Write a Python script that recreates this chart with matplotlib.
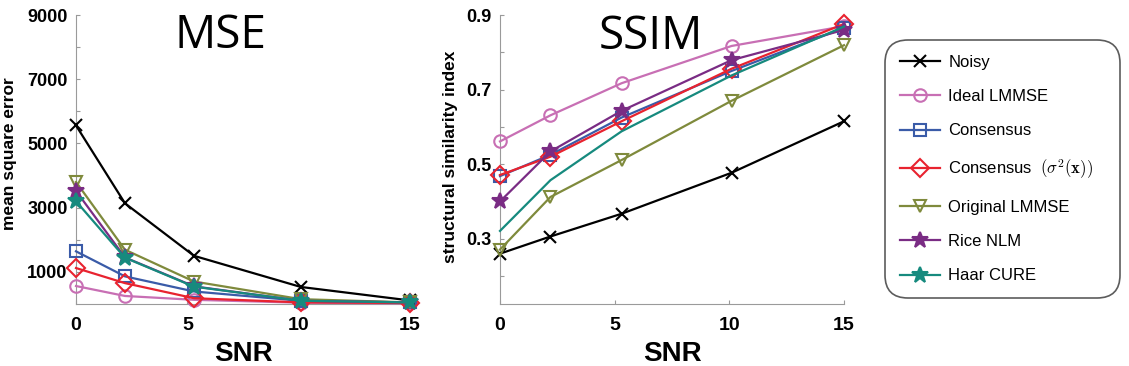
import matplotlib
matplotlib.use("Agg")
from matplotlib import pyplot as plt
from matplotlib.ticker import FixedLocator, FuncFormatter

plt.rcParams['font.family'] = ['Liberation Sans', 'DejaVu Sans']
plt.rcParams['mathtext.fontset'] = 'cm'

snr = [0, 2.2, 5.3, 10.1, 15]

names = ["Noisy", "Ideal LMMSE", "Consensus", r"Consensus  $(\sigma^2(\mathbf{x}))$",
         "Original LMMSE", "Rice NLM", "Haar CURE"]
colors = ["#000000", "#c86fb4", "#3a5ba8", "#e8232f", "#7f8a3c", "#7a2c84", "#168a7e"]
markers = ["x", "o", "s", "D", "v", "*", "*"]

mse_noisy = [5560, 3135, 1500, 530, 110]
mse_ideal = [560, 250, 130, 40, 20]
mse_cons = [1640, 860, 390, 100, 50]
mse_cons_sig = [1120, 650, 180, 50, 30]
mse_orig = [3800, 1690, 700, 150, 50]
mse_rice = [3520, 1450, 550, 100, 50]
mse_haar = [3200, 1440, 540, 100, 50]

ssim_noisy = [0.260, 0.306, 0.367, 0.477, 0.615]
ssim_ideal = [0.561, 0.631, 0.717, 0.817, 0.870]
ssim_cons = [0.468, 0.525, 0.625, 0.750, 0.865]
ssim_cons_sig = [0.471, 0.520, 0.615, 0.756, 0.876]
ssim_orig = [0.271, 0.412, 0.511, 0.670, 0.819]
ssim_rice = [0.400, 0.534, 0.643, 0.779, 0.860]
ssim_haar = [0.321, 0.457, 0.588, 0.738, 0.869]

mse = [mse_noisy, mse_ideal, mse_cons, mse_cons_sig, mse_orig, mse_rice, mse_haar]
ssim = [ssim_noisy, ssim_ideal, ssim_cons, ssim_cons_sig, ssim_orig, ssim_rice, ssim_haar]

fig = plt.figure(figsize=(11.29, 3.66), dpi=100)
ax1 = fig.add_axes([76 / 1129, 1 - 304 / 366, 334 / 1129, 289 / 366])
ax2 = fig.add_axes([500 / 1129, 1 - 304 / 366, 344 / 1129, 289 / 366])


def style(ax):
    for s in ["top", "right"]:
        ax.spines[s].set_visible(False)
    for s in ["left", "bottom"]:
        ax.spines[s].set_color("#9a9a9a")
        ax.spines[s].set_linewidth(0.8)
    ax.tick_params(direction="in", color="#9a9a9a", length=3)
    ax.tick_params(axis="x", labelsize=14, pad=9)
    ax.tick_params(axis="y", labelsize=13, pad=6)
    for lab in ax.get_xticklabels() + ax.get_yticklabels():
        lab.set_fontweight("bold")
    ax.set_xlim(0, 15)
    ax.set_xticks([0, 5, 10, 15])
    ax.set_xlabel("SNR", fontsize=20, fontweight="bold")
    ax.xaxis.set_label_coords(0.5, -37 / 289)


handles = []
for i in range(7):
    ms = 12 if markers[i] == "*" else 9
    face = colors[i] if markers[i] == "*" else "none"
    h, = ax1.plot(snr, mse[i], color=colors[i], marker=markers[i], markersize=ms,
                  markerfacecolor=face, markeredgewidth=1.5, linewidth=1.6,
                  clip_on=False, zorder=3)
    handles.append(h)
    if i == 6:
        ax2.plot(snr, ssim[i], color=colors[i], linewidth=1.6, clip_on=False, zorder=3)
    else:
        ax2.plot(snr, ssim[i], color=colors[i], marker=markers[i], markersize=ms,
                 markerfacecolor=face, markeredgewidth=1.5, linewidth=1.6,
                 clip_on=False, zorder=3)

ax1.set_ylim(0, 9000)
ax1.yaxis.set_major_locator(FixedLocator(range(1000, 9001, 1000)))
ax1.yaxis.set_major_formatter(FuncFormatter(lambda v, p: "%d" % v if int(v) % 2000 == 1000 else ""))
ax1.set_ylabel("mean square error", fontsize=12.5, fontweight="bold")
ax1.yaxis.set_label_coords(-59 / 334, 0.52)
style(ax1)

ax2.set_ylim(0.125, 0.9)
ax2.yaxis.set_major_locator(FixedLocator([0.2, 0.3, 0.4, 0.5, 0.6, 0.7, 0.8, 0.9]))
ax2.yaxis.set_major_formatter(FuncFormatter(lambda v, p: "%.1f" % v if round(v * 10) % 2 == 1 else ""))
ax2.set_ylabel("structural similarity index", fontsize=12.5, fontweight="bold")
ax2.yaxis.set_label_coords(-42 / 344, 0.51)
style(ax2)

fig.text(220 / 1129, 1 - 36 / 366, "MSE", fontsize=33, ha="center", va="center",
         family=["Open Sans", "DejaVu Sans"])
fig.text(651 / 1129, 1 - 37 / 366, "SSIM", fontsize=33, ha="center", va="center",
         family=["Open Sans", "DejaVu Sans"])

leg = fig.legend(handles, names, loc="upper left",
                 bbox_to_anchor=(885 / 1129, 1 - 303 / 366, 235 / 1129, 263 / 366),
                 mode="expand", borderaxespad=0, fontsize=12, labelspacing=1.15,
                 handlelength=2.4, handletextpad=0.5, borderpad=0.9,
                 fancybox=True, frameon=True)
leg.get_frame().set_edgecolor("#333333")
leg.get_frame().set_linewidth(1.2)
leg.get_frame().set_boxstyle("round", pad=0, rounding_size=1.4)

fig.savefig("out.png", dpi=100)
